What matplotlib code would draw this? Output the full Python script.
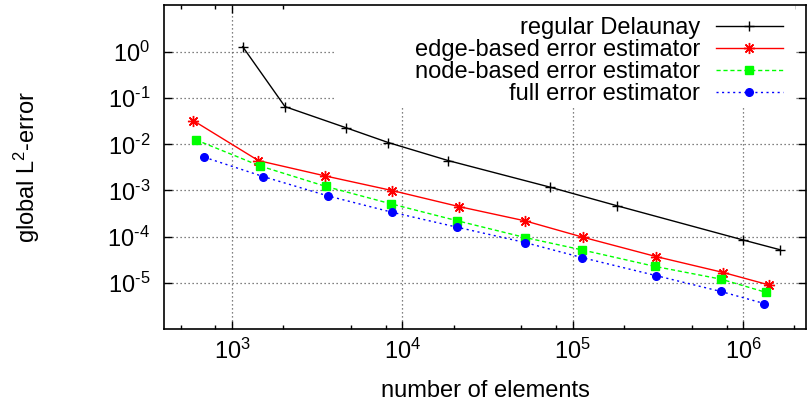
import numpy as np
import matplotlib
matplotlib.use("Agg")
import matplotlib.pyplot as plt
from matplotlib.patches import Rectangle
from matplotlib.ticker import FixedLocator, LogLocator, NullFormatter

# valeurs
black_x = [1156, 2047, 4645, 8280, 18600, 73600, 183000, 997000, 1650000]
black_y = [1.30, 0.0655, 0.023, 0.0109, 0.00444, 0.00118, 4.64e-4, 8.5e-5, 5.2e-5]

red_x = [593, 1429, 3515, 8730, 21500, 52500, 114500, 309000, 767000, 1410000]
red_y = [0.0326, 0.00444, 0.00207, 9.95e-4, 4.48e-4, 2.2e-4, 9.75e-5, 3.7e-5, 1.67e-5, 9.05e-6]

green_x = [615, 1460, 3565, 8590, 20800, 52500, 113000, 305000, 743000, 1370000]
green_y = [0.01245, 0.0034, 0.00122, 5.13e-4, 2.23e-4, 9.57e-5, 5.18e-5, 2.26e-5, 1.2e-5, 6.18e-6]

blue_x = [688, 1527, 3650, 8670, 21000, 52500, 113000, 307000, 741000, 1330000]
blue_y = [0.00525, 0.002, 7.64e-4, 3.39e-4, 1.6e-4, 7.46e-5, 3.53e-5, 1.44e-5, 6.49e-6, 3.56e-6]

labels = ["regular Delaunay", "edge-based error estimator",
          "node-based error estimator", "full error estimator"]

xticks = [1e3, 1e4, 1e5, 1e6]
xticklabels = [r"$10^{3}$", r"$10^{4}$", r"$10^{5}$", r"$10^{6}$"]
yticks = [1e-5, 1e-4, 1e-3, 1e-2, 1e-1, 1e0]
yticklabels = [r"$10^{\text{-}5}$", r"$10^{\text{-}4}$", r"$10^{\text{-}3}$",
               r"$10^{\text{-}2}$", r"$10^{\text{-}1}$", r"$10^{0}$"]

plt.rcParams["font.family"] = ["Liberation Sans", "DejaVu Sans"]
plt.rcParams["mathtext.fontset"] = "custom"
plt.rcParams["mathtext.rm"] = "Liberation Sans"
plt.rcParams["mathtext.it"] = "Liberation Sans:italic"
plt.rcParams["mathtext.default"] = "regular"
plt.rcParams["font.size"] = 17

fig = plt.figure(figsize=(8.07, 4.01), dpi=100)
ax = fig.add_axes([164/807, 72/401, 642/807, 324/401])

ax.set_xscale("log")
ax.set_yscale("log")
ax.set_xlim(399, 2.34e6)
ax.set_ylim(1e-6, 10.4)

ax.grid(True, which="major", color="0.35", linestyle=(0, (1, 2.2)), linewidth=0.9, zorder=0)
ax.set_axisbelow(True)

# boite blanche de la legende (comme gnuplot)
ax.add_patch(Rectangle((0.266, 0.682), 0.717, 0.32, transform=ax.transAxes,
                       facecolor="white", edgecolor="none", zorder=1))

ax.plot(black_x, black_y, color="black", lw=1, marker="+", ms=7, mew=1,
        label=labels[0], zorder=3)
ax.plot(red_x, red_y, color="#ff0000", lw=1, marker=(8, 2, 0), ms=8, mew=1,
        label=labels[1], zorder=3)
ax.plot(green_x, green_y, color="#00ff00", lw=1, ls=(0, (3, 2)), marker="s", ms=6,
        label=labels[2], zorder=3)
ax.plot(blue_x, blue_y, color="#0000ff", lw=1, ls=(0, (1.5, 2.5)), marker="o", ms=5.5,
        label=labels[3], zorder=3)

ax.xaxis.set_major_locator(FixedLocator(xticks))
ax.set_xticklabels(xticklabels)
ax.xaxis.set_minor_locator(LogLocator(base=10, subs=[2, 5, 8]))
ax.xaxis.set_minor_formatter(NullFormatter())
ax.yaxis.set_major_locator(FixedLocator(yticks))
ax.set_yticklabels(yticklabels)
ax.yaxis.set_minor_locator(FixedLocator([]))

ax.tick_params(which="both", direction="in", top=True, right=True, width=1)
ax.tick_params(which="major", length=6, labelsize=17)
ax.tick_params(axis="x", which="major", pad=7)
ax.tick_params(axis="y", which="major", pad=10)
ax.tick_params(which="minor", length=3)
for s in ax.spines.values():
    s.set_linewidth(1.2)

ax.set_xlabel("number of elements", fontsize=17)
ax.set_ylabel("global L$^2$-error", fontsize=17)
ax.xaxis.set_label_coords(0.5, -0.157)
ax.yaxis.set_label_coords(-0.19, 0.5)

leg = ax.legend(loc="upper right", bbox_to_anchor=((783-164)/642, 0.963),
                frameon=False, markerfirst=False, borderpad=0, borderaxespad=0,
                handlelength=2.85, handletextpad=0.65, labelspacing=0.0, fontsize=17)
for col in leg._legend_handle_box.get_children():
    col.align = "right"

fig.savefig("out.png", dpi=100)
